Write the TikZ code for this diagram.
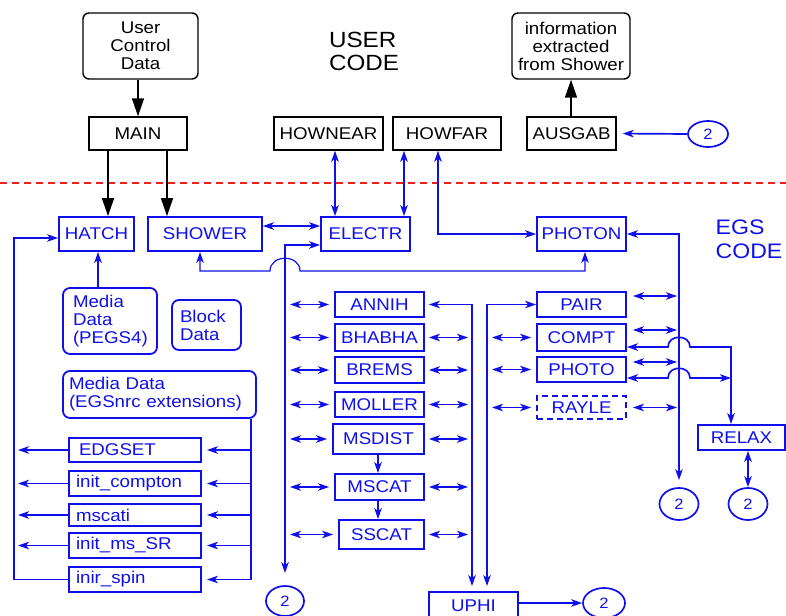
\documentclass[tikz,border=0pt]{standalone}
\usepackage{fontspec}
\setmainfont{Liberation Sans}[FakeStretch=1.1]
\usetikzlibrary{arrows.meta,shapes.geometric,calc}
\definecolor{eb}{RGB}{15,15,235}
\definecolor{rd}{RGB}{235,30,30}
\begin{document}
\begin{tikzpicture}[x=1pt,y=-1pt,
  every node/.style={font=\fontsize{17}{18}\selectfont, inner sep=0pt},
  >={Stealth[length=11pt,width=7.5pt,inset=3pt]},
  ubox/.style={draw=black, line width=1.4pt, rectangle, text=black},
  urbox/.style={ubox, rounded corners=6pt, align=center},
  ebox/.style={draw=eb, line width=1.8pt, rectangle, text=eb},
  erbox/.style={ebox, rounded corners=7pt},
  circ/.style={ellipse, draw=eb, line width=1.7pt, text=eb, font=\fontsize{15}{16}\selectfont},
  blk/.style={draw=black, line width=1.5pt, -{Triangle[length=18pt,width=12pt]}},
  bl/.style={draw=eb, line width=1.7pt},
  tn/.style={draw=eb, line width=1.2pt}
]
\useasboundingbox (0,0) rectangle (786,615);
\clip (0,0) rectangle (786,615);

% ---------- user code ----------
\node[urbox, minimum width=115, minimum height=66] (ucd) at (140.5,46) {User\\Control\\Data};
\node[urbox, minimum width=118, minimum height=66] (info) at (571,46) {information\\extracted\\from Shower};
\node[ubox, minimum width=98, minimum height=33] (main) at (138,133.5) {MAIN};
\node[ubox, minimum width=109, minimum height=33] (hownear) at (328.5,133.5) {HOWNEAR};
\node[ubox, minimum width=108, minimum height=33] (howfar) at (447,133.5) {HOWFAR};
\node[ubox, minimum width=89, minimum height=33] (ausgab) at (571.5,133.5) {AUSGAB};
\node[circ, minimum width=40, minimum height=26] (c2a) at (708,134) {2};
\node[font=\fontsize{22}{23}\selectfont, align=left] (uc) at (364,51) {USER\\CODE};

% ---------- separator ----------
\coordinate (rl) at (0,183);
\coordinate (rr) at (786,183);
\draw[draw=rd, line width=1.3pt, dash pattern=on 7pt off 5pt] (rl) -- (rr);

% ---------- EGS code ----------
\node[font=\fontsize{21}{24}\selectfont, text=eb, align=left] (egs) at (749,239) {EGS\\CODE};
\node[ebox, minimum width=75, minimum height=34] (hatch) at (96.5,234) {HATCH};
\node[ebox, minimum width=114, minimum height=34] (shower) at (205,234) {SHOWER};
\node[ebox, minimum width=89, minimum height=34] (electr) at (365.5,234) {ELECTR};
\node[ebox, minimum width=89, minimum height=34] (photon) at (581.5,234) {PHOTON};

\node[erbox, minimum width=94, minimum height=66, text width=74, inner xsep=10pt, align=left] (pegs) at (110,321) {Media\\Data\\(PEGS4)};
\node[erbox, minimum width=69, minimum height=50, text width=53, inner xsep=8pt, align=left] (block) at (206.5,325) {Block\\Data};
\node[erbox, minimum width=193, minimum height=47, text width=181, inner xsep=6pt, align=left] (egsnrc) at (159.5,394.5) {Media Data\\(EGSnrc extensions)};

\node[ebox, minimum width=132, minimum height=24, text width=118, inner xsep=7pt, align=left] (edgset) at (135,450) {\hspace{3pt}EDGSET};
\node[ebox, minimum width=132, minimum height=25, text width=118, inner xsep=7pt, align=left] (initc) at (135,483.5) {init\_compton};
\node[ebox, minimum width=132, minimum height=22, text width=118, inner xsep=7pt, align=left] (mscati) at (135,515) {mscati};
\node[ebox, minimum width=132, minimum height=25, text width=118, inner xsep=7pt, align=left] (initms) at (135,545.5) {init\_ms\_SR};
\node[ebox, minimum width=132, minimum height=25, text width=118, inner xsep=7pt, align=left] (inir) at (135,579.5) {inir\_spin};

\node[ebox, minimum width=89, minimum height=25] (annih) at (379.5,304.5) {ANNIH};
\node[ebox, minimum width=89, minimum height=27] (bhabha) at (379.5,337.5) {BHABHA};
\node[ebox, minimum width=89, minimum height=26] (brems) at (379.5,370) {BREMS};
\node[ebox, minimum width=89, minimum height=25] (moller) at (379.5,404.5) {MOLLER};
\node[ebox, minimum width=91, minimum height=30] (msdist) at (378.5,439) {MSDIST};
\node[ebox, minimum width=89, minimum height=26] (mscat) at (379.5,487) {MSCAT};
\node[ebox, minimum width=85, minimum height=29] (sscat) at (381.5,534.5) {SSCAT};

\node[ebox, minimum width=89, minimum height=25] (pair) at (581.5,304.5) {PAIR};
\node[ebox, minimum width=89, minimum height=27] (compt) at (581.5,337.5) {COMPT};
\node[ebox, minimum width=89, minimum height=25] (photo) at (581.5,369.5) {PHOTO};
\node[ebox, dash pattern=on 6pt off 4pt, minimum width=89, minimum height=23] (rayle) at (581.5,407.5) {RAYLE};
\node[ebox, minimum width=87, minimum height=25] (relax) at (741.5,437.5) {RELAX};
\node[ebox, minimum width=89, minimum height=28] (uphi) at (473.5,606) {UPHI};

\node[circ, minimum width=38, minimum height=30] (c2b) at (285,601) {2};
\node[circ, minimum width=39, minimum height=32] (c2c) at (679,504) {2};
\node[circ, minimum width=39, minimum height=32] (c2d) at (748,504) {2};
\node[circ, minimum width=42, minimum height=30] (c2e) at (604,603) {2};

% ---------- helper coordinates ----------
\coordinate (xL) at (14,0);
\coordinate (xP) at (98,0);
\coordinate (xMa) at (108,0);
\coordinate (xMb) at (167,0);
\coordinate (xSw) at (200,0);
\coordinate (xE) at (251,0);
\coordinate (xCa) at (285,0);
\coordinate (xHn) at (335,0);
\coordinate (xM) at (378,0);
\coordinate (xHf) at (404,0);
\coordinate (xHp) at (438,0);
\coordinate (xU1) at (472,0);
\coordinate (xU2) at (487,0);
\coordinate (xPh) at (585,0);
\coordinate (xR) at (679,0);
\coordinate (xRx) at (731,0);
\coordinate (yS) at (0,226);
\coordinate (yH) at (0,238);
\coordinate (yE) at (0,245);
\coordinate (yB) at (0,271);
\coordinate (yPa) at (0,296);
\coordinate (yCo) at (0,330);
\coordinate (yCr) at (0,347);
\coordinate (yPo) at (0,362);
\coordinate (yPr) at (0,378);

% ---------- black connectors ----------
\draw[blk] (main.north |- ucd.south) -- (main.north);
\draw[blk] (main.south -| xMa) -- (hatch.north -| xMa);
\draw[blk] (main.south -| xMb) -- (shower.north -| xMb);
\draw[blk] (info.south |- ausgab.north) -- (info.south);

% ---------- blue connectors ----------
\draw[bl,->,shorten >=6pt] (c2a.west) -- (ausgab.east);
\draw[bl,<->] (hownear.south -| xHn) -- (electr.north -| xHn);
\draw[bl,<->] (howfar.south -| xHf) -- (electr.north -| xHf);
\draw[bl,<->] (howfar.south -| xHp) -- (xHp |- photon.west) -- (photon.west);
\draw[bl,<->] (shower.east |- yS) -- (electr.west |- yS);
\draw[bl,<->,shorten >=12pt] (electr.west |- yE) -- (xCa |- yE) -- (c2b.north);
\draw[tn,<->] (shower.south -| xSw) -- (xSw |- yB) -- ($(xCa |- yB)+(-15,0)$)
   .. controls +(0,-17) and +(0,-17) .. ($(xCa |- yB)+(15,0)$) -- (xPh |- yB) -- (photon.south -| xPh);
\draw[tn,<->,shorten >=7pt] (photon.east) -- (xR |- photon.east) -- (c2c.north);

% right of photon-column
\draw[bl,<->,shorten <=6pt,shorten >=2pt] (pair.east |- yPa) -- (xR |- yPa);
\draw[bl,<->,shorten <=6pt,shorten >=2pt] (compt.east |- yCo) -- (xR |- yCo);
\draw[bl,<->,shorten <=6pt,shorten >=2pt] (photo.east |- yPo) -- (xR |- yPo);
\draw[bl,<->,shorten <=6pt,shorten >=2pt] (rayle.east) -- (xR |- rayle.east);
\draw[bl,<->] (compt.east |- yCr) -- ($(xR |- yCr)+(-11,0)$)
   .. controls +(0,-13) and +(0,-13) .. ($(xR |- yCr)+(11,0)$) -- (xRx |- yCr) -- (relax.north -| xRx);
\draw[bl,<->] (photo.east |- yPr) -- ($(xR |- yPr)+(-11,0)$)
   .. controls +(0,-13) and +(0,-13) .. ($(xR |- yPr)+(11,0)$) -- (xRx |- yPr);
\draw[bl,<->] (relax.south -| c2d.north) -- (c2d.north);

% middle column, left side
\foreach \b in {annih,bhabha,brems,moller,msdist,mscat,sscat}
  \draw[bl,<->,shorten <=5pt,shorten >=5pt] (xCa |- \b.west) -- (\b.west);
% middle column, right side
\foreach \b in {bhabha,brems,moller,msdist,mscat,sscat}
  \draw[bl,<->,shorten <=4pt,shorten >=4pt] (\b.east) -- (xU1 |- \b.east);
\draw[bl,<->,shorten <=4pt,shorten >=5pt] (annih.east) -- (xU1 |- annih.east) -- (uphi.north -| xU1);
\draw[bl,<->,shorten >=5pt] (pair.west) -- (xU2 |- pair.west) -- (uphi.north -| xU2);
\foreach \b in {compt,photo,rayle}
  \draw[bl,<->,shorten <=5pt,shorten >=5pt] (xU2 |- \b.west) -- (\b.west);
\draw[bl,->] (msdist.south -| xM) -- (mscat.north -| xM);
\draw[bl,->] (mscat.south -| xM) -- (sscat.north -| xM);
\draw[bl,->] (uphi.east |- c2e.west) -- (c2e.west);

% left side
\draw[bl,->] (pegs.north -| xP) -- (hatch.south -| xP);
\draw[bl] (egsnrc.south -| xE) -- (xE |- inir.east);
\foreach \b in {edgset,initc,mscati,initms,inir}
  \draw[bl,->,shorten >=5pt] (xE |- \b.east) -- (\b.east);
\draw[bl,->] (inir.west) -- (xL |- inir.west) -- (xL |- yH) -- (hatch.west |- yH);
\foreach \b in {edgset,initc,mscati,initms}
  \draw[bl,->,shorten >=4pt] (\b.west) -- (xL |- \b.west);
\end{tikzpicture}
\end{document}
